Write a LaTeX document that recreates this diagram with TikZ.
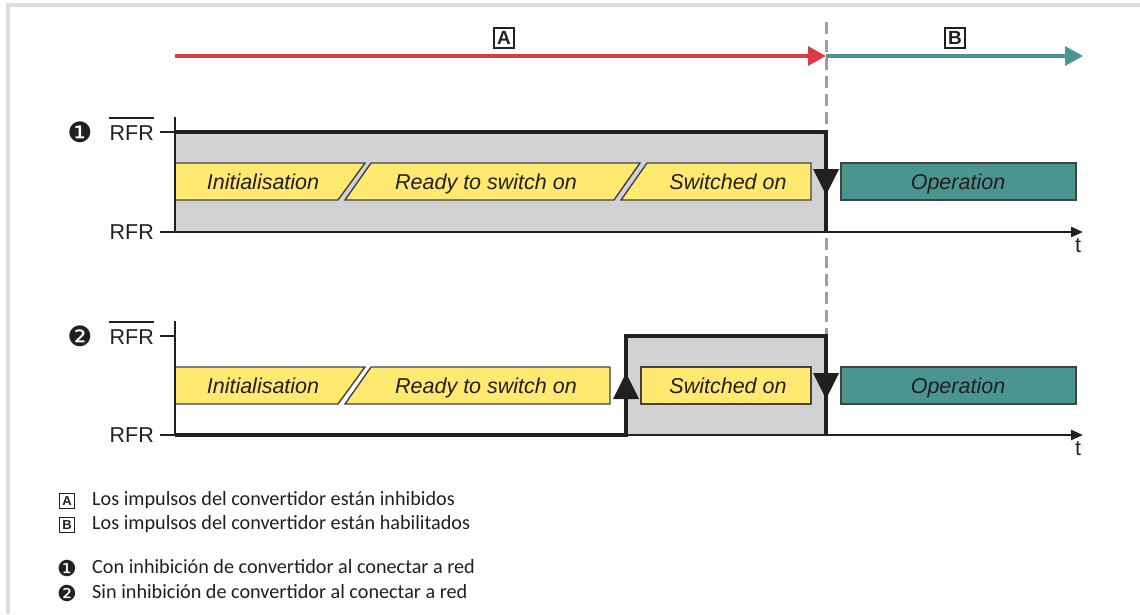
\documentclass[tikz,border=0pt]{standalone}
\usepackage{fontspec}
\setmainfont{Liberation Sans}
\newfontfamily\legfont{Carlito}
\newfontfamily\symfont{DejaVu Sans}
\usetikzlibrary{arrows.meta}
\definecolor{framegray}{HTML}{DCDCDC}
\definecolor{areagray}{HTML}{D1D2D4}
\definecolor{ared}{HTML}{DC3A45}
\definecolor{ateal}{HTML}{4A958F}
\definecolor{ayellow}{HTML}{FFE971}
\definecolor{dashgray}{HTML}{9D9FA2}
\definecolor{ink}{HTML}{231F20}
\tikzset{
  lbl/.style={font=\fontsize{21.5}{24}\selectfont, text=ink, inner sep=0pt},
  state/.style={font=\fontsize{21.5}{24}\selectfont\itshape, text=ink, inner sep=0pt, anchor=base},
  ybox/.style={fill=ayellow, draw=ink!85, line width=1.4pt},
  obox/.style={fill=ateal, draw=ink!85, line width=1.4pt},
  thin axis/.style={draw=ink, line width=1.5pt},
  overbar/.style={draw=ink, line width=1.3pt},
  signal/.style={draw=ink, line width=3.2pt, line join=miter},
  taxis/.style={draw=ink, line width=2.4pt, -{Triangle[length=12pt,width=10pt]}},
  edgetri/.style={fill=ink},
  phase/.style={line width=3.2pt, -{Triangle[length=18pt,width=19pt]}},
  keybox/.style={draw=ink, line width=1.4pt, font=\fontsize{19}{20}\selectfont\bfseries, text=ink, inner sep=1pt, minimum width=20pt, minimum height=20pt},
  smallkey/.style={draw=ink, line width=1pt, font=\fontsize{13}{14}\selectfont\bfseries, text=ink, inner sep=0.5pt, minimum width=15pt, minimum height=15pt},
  leg/.style={font=\legfont\fontsize{20.2}{22}\selectfont, text=ink, inner sep=0pt, anchor=west},
  num/.style={font=\symfont\fontsize{28}{30}\selectfont, text=ink, inner sep=0pt},
  lnum/.style={font=\symfont\fontsize{22}{24}\selectfont, text=ink, inner sep=0pt}
}
\begin{document}
\begin{tikzpicture}[x=1pt,y=-1pt]
\useasboundingbox (0,0) rectangle (1140,614);
% frame
\fill[framegray] (6,3) rectangle (1140,7);
\fill[framegray] (6,3) rectangle (10,614);

% dashed separator (behind everything)
\coordinate (d0) at (826,22);
\coordinate (d1) at (826,334);
\draw[dashgray, line width=3pt, dash pattern=on 12pt off 6pt] (d0) -- (d1);

% phase arrows
\coordinate (pa0) at (175,56);
\coordinate (pa1) at (826,56);
\coordinate (pb1) at (1083,56);
\draw[phase, ared] (pa0) -- (pa1);
\draw[phase, ateal] (pa1) -- (pb1);
\node[keybox] (kA) at (504,38) {A};
\node[keybox] (kB) at (955,38) {B};

% ---------- panel 1 ----------
\fill[areagray] (175,132) rectangle (826,232);
\draw[ybox] (175,163) -- (365,163) -- (338,200) -- (175,200) -- cycle;
\draw[ybox] (371,163) -- (640,163) -- (614,200) -- (345,200) -- cycle;
\draw[ybox] (647,163) -- (811,163) -- (811,200) -- (621,200) -- cycle;
\draw[obox] (841,163) rectangle (1076,200);
\node[state] (s1a) at (263,189.5) {Initialisation};
\node[state] (s1b) at (486,189.5) {Ready to switch on};
\node[state] (s1c) at (728,189.5) {Switched on};
\node[state] (s1d) at (958,189.5) {Operation};

\draw[thin axis] (175,117) -- (175,232);
\draw[thin axis] (160,132) -- (175,132);
\draw[thin axis] (160,232) -- (175,232);
\coordinate (a1s) at (175,232);
\coordinate (a1e) at (1083,232);
\draw[taxis] (a1s) -- (a1e);
\draw[signal] (175,132) -- (826,132) -- (826,232);
\fill[edgetri] (813,169) -- (839,169) -- (826,195) -- cycle;

\node[lbl, anchor=east] (h1) at (154,133) {RFR};
\draw[overbar] ([yshift=7.5pt]h1.north west) -- ([yshift=7.5pt]h1.north east);
\node[lbl, anchor=east] (l1) at (154,232) {RFR};
\node[num] (n1) at (80,132) {❶};
\node[lbl] (t1) at (1078,246) {t};

% ---------- panel 2 ----------
\fill[areagray] (626,336) rectangle (826,435);
\draw[ybox] (175,367) -- (365,367) -- (338,404) -- (175,404) -- cycle;
\draw[ybox] (371,367) -- (610,367) -- (610,404) -- (345,404) -- cycle;
\draw[ybox] (641,367) rectangle (811,404);
\draw[obox] (841,367) rectangle (1076,404);
\node[state] (s2a) at (263,393.5) {Initialisation};
\node[state] (s2b) at (486,393.5) {Ready to switch on};
\node[state] (s2c) at (728,393.5) {Switched on};
\node[state] (s2d) at (958,393.5) {Operation};

\draw[thin axis] (175,321) -- (175,435);
\draw[thin axis] (160,336) -- (175,336);
\draw[thin axis] (160,435) -- (175,435);
\coordinate (a2s) at (175,435);
\coordinate (a2e) at (1083,435);
\draw[taxis] (a2s) -- (a2e);
\draw[signal] (175,435) -- (626,435) -- (626,336) -- (826,336) -- (826,435);
\fill[edgetri] (613,399) -- (639,399) -- (626,373) -- cycle;
\fill[edgetri] (813,373) -- (839,373) -- (826,399) -- cycle;

\node[lbl, anchor=east] (h2) at (154,337) {RFR};
\draw[overbar] ([yshift=7.5pt]h2.north west) -- ([yshift=7.5pt]h2.north east);
\node[lbl, anchor=east] (l2) at (154,435) {RFR};
\node[num] (n2) at (80,336) {❷};
\node[lbl] (t2) at (1078,449) {t};

% ---------- legend ----------
\node[smallkey] (lkA) at (67,501) {A};
\node[leg] (lgA) at (92,500) {Los impulsos del convertidor están inhibidos};
\node[smallkey] (lkB) at (67,525) {B};
\node[leg] (lgB) at (92,524) {Los impulsos del convertidor están habilitados};
\node[lnum] (ln1) at (67,568) {❶};
\node[leg] (lg1) at (92,567) {Con inhibición de convertidor al conectar a red};
\node[lnum] (ln2) at (67,593) {❷};
\node[leg] (lg2) at (92,592) {Sin inhibición de convertidor al conectar a red};
\end{tikzpicture}
\end{document}
